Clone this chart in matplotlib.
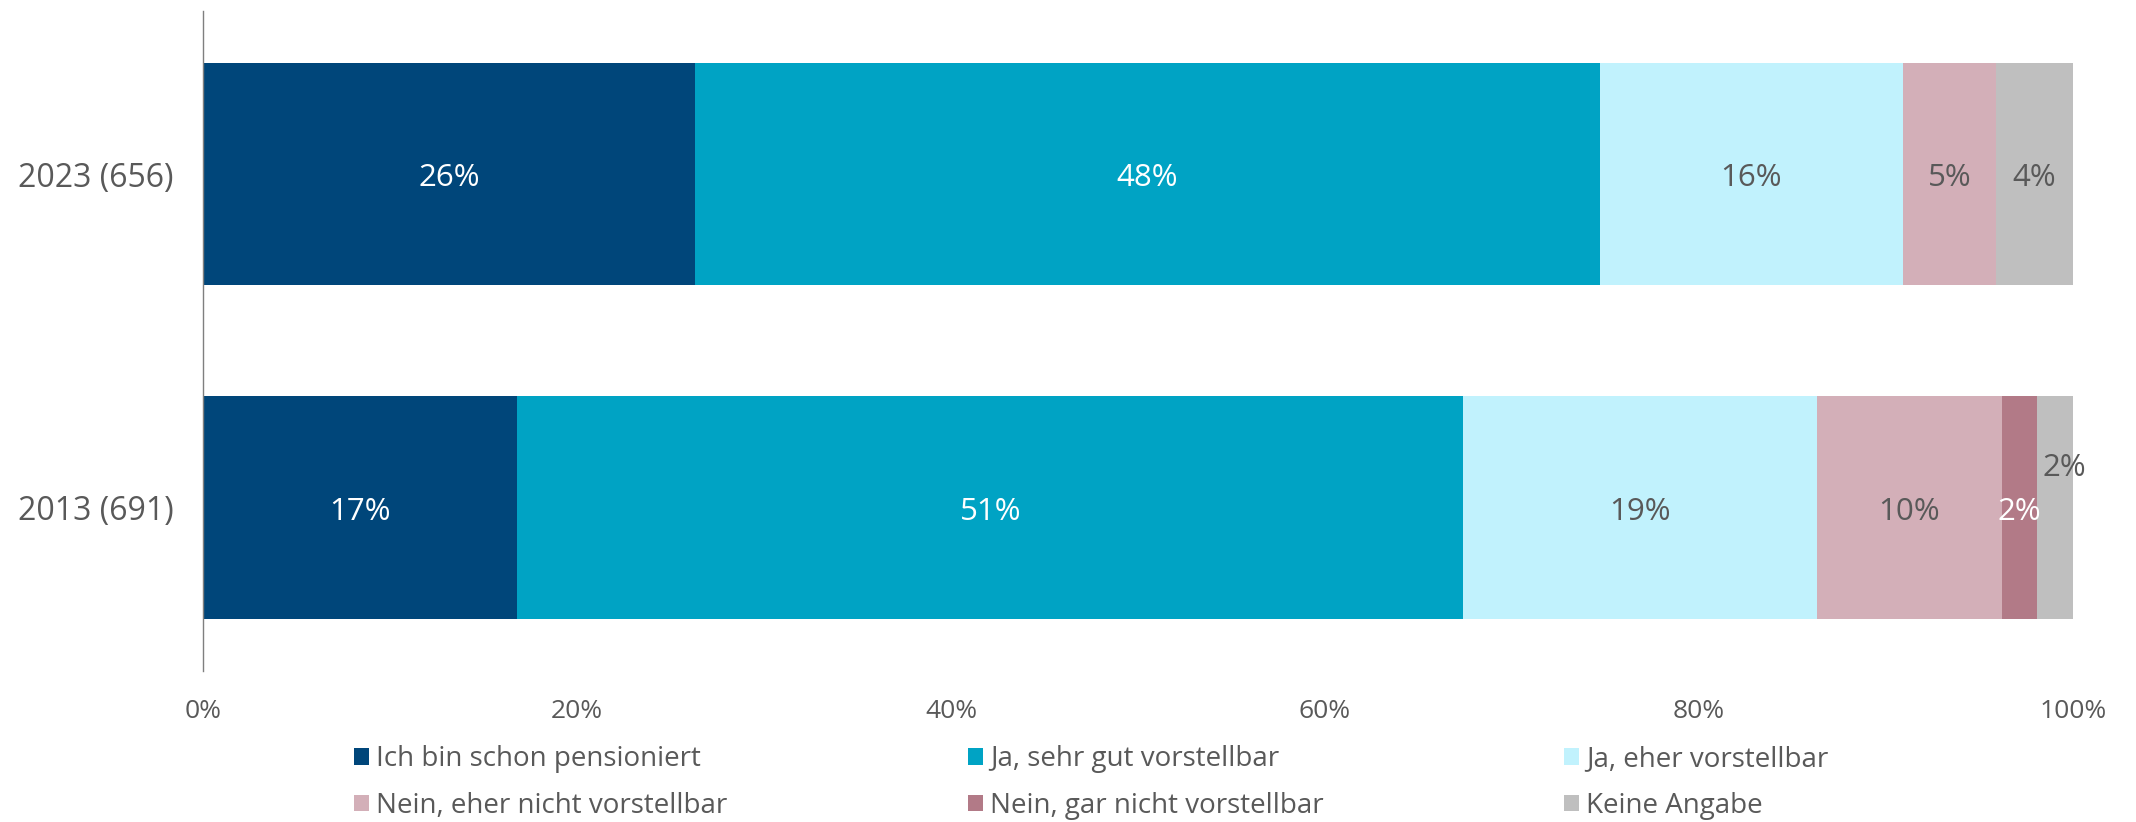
import numpy as np
import matplotlib.pyplot as plt

# survey data (share in %)
years = ["2013 (691)", "2023 (656)"]
categories = ["Ich bin schon pensioniert", "Ja, sehr gut vorstellbar", "Ja, eher vorstellbar",
              "Nein, eher nicht vorstellbar", "Nein, gar nicht vorstellbar", "Keine Angabe"]
vals_2013 = [16.8, 50.6, 18.9, 9.9, 1.9, 1.9]
vals_2023 = [26.3, 48.4, 16.2, 5.0, 0.0, 4.1]
ticks = [0, 20, 40, 60, 80, 100]

colors = ["#00467A", "#00A3C4", "#C1F2FD", "#D3AFB8", "#B27A87", "#BFBFBF"]
txtcol = ["white", "white", "#595959", "#595959", "white", "#595959"]
grey = "#595959"

plt.rcParams['font.family'] = ['Open Sans', 'DejaVu Sans']

fig = plt.figure(figsize=(21.36, 8.22), dpi=100)
ax = fig.add_axes([0.095, 0.1837, 0.8755, 0.803])

data = np.array([vals_2013, vals_2023])
ypos = np.arange(len(years))
left = np.zeros(len(years))
handles = []
for i, cat in enumerate(categories):
    w = data[:, i]
    b = ax.barh(ypos, w, left=left, height=0.667, color=colors[i], label=cat, linewidth=0)
    handles.append(b)
    for j in range(len(years)):
        if w[j] <= 0:
            continue
        cx = left[j] + w[j] / 2
        cy = ypos[j] - 0.012
        # last small segment of 2013: label sits above
        if i == len(categories) - 1 and j == 0:
            cx += 0.5
            cy += 0.13
        ax.text(cx, cy, f"{w[j]:.0f}%", ha="center", va="center", fontsize=22.5,
                color=txtcol[i])
    left += w

ax.set_xlim(0, 100)
ax.set_ylim(-0.49, 1.49)
ax.set_yticks(ypos)
ax.set_yticklabels(years, fontsize=23, color=grey)
ax.set_xticks(ticks)
ax.set_xticklabels([f"{t}%" for t in ticks], fontsize=19, color=grey)
ax.tick_params(axis="both", length=0)
ax.tick_params(axis="x", pad=20)
ax.tick_params(axis="y", pad=21)
for s in ["top", "right", "bottom"]:
    ax.spines[s].set_visible(False)
ax.spines["left"].set_color("#7F7F7F")
ax.spines["left"].set_linewidth(1.0)

# legend filled row by row (3 columns, 2 rows)
order = [0, 3, 1, 4, 2, 5]
leg = fig.legend([handles[k] for k in order], [categories[k] for k in order],
                 loc="center left", bbox_to_anchor=(0.154, 0.048), ncol=3, frameon=False,
                 fontsize=20, labelcolor=grey, handlelength=0.55, handleheight=0.55,
                 handletextpad=0.25, columnspacing=8.65, labelspacing=0.66)

fig.savefig("out.png", dpi=100)
